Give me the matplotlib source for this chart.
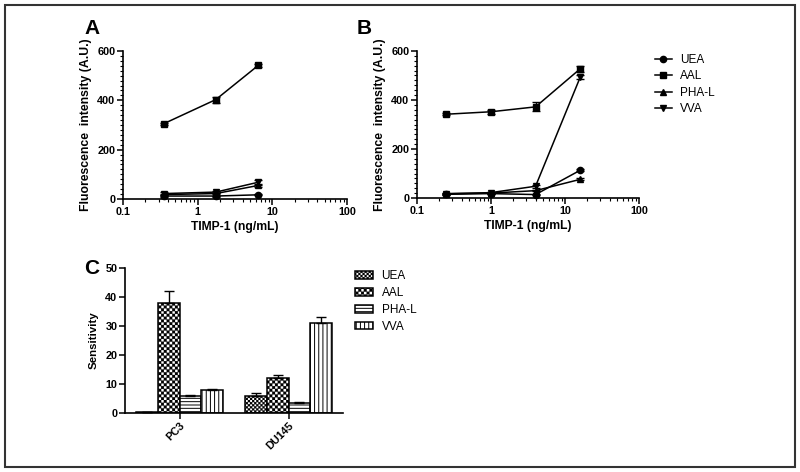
import warnings
import numpy as np
import matplotlib
matplotlib.use('Agg')
import matplotlib.pyplot as plt
import matplotlib.hatch as mhatch
from matplotlib.path import Path
from matplotlib.patches import Rectangle
from matplotlib.ticker import LogLocator, NullFormatter, FixedLocator, MultipleLocator

warnings.filterwarnings('ignore')

# ---------------- data ----------------
lectins = ['UEA', 'AAL', 'PHA-L', 'VVA']
line_markers = ['o', 's', '^', 'v']

# Panel A
timp_A = [0.35, 1.75, 6.5]
uea_A = [12, 12, 17]
aal_A = [305, 403, 542]
pha_A = [18, 22, 55]
vva_A = [22, 28, 68]
uea_A_err = [2, 2, 2]
aal_A_err = [5, 12, 6]
pha_A_err = [3, 3, 6]
vva_A_err = [5, 5, 10]

# Panel B
timp_B = [0.25, 1, 4, 16]
uea_B = [15, 18, 14, 113]
aal_B = [342, 352, 372, 527]
pha_B = [18, 20, 30, 76]
vva_B = [17, 22, 48, 492]
uea_B_err = [2, 2, 2, 4]
aal_B_err = [5, 9, 18, 12]
pha_B_err = [2, 2, 3, 4]
vva_B_err = [3, 3, 6, 8]

x_ticks_log = [0.1, 1, 10, 100]
x_tick_labels = ['0.1', '1', '10', '100']
y_ticks_AB = [0, 200, 400, 600]

# Panel C
cell_lines = ['PC3', 'DU145']
sens_uea = [0.3, 6.0]
sens_aal = [38.0, 12.0]
sens_pha = [5.8, 3.6]
sens_vva = [7.8, 31.0]
sens_uea_err = [0.1, 1.0]
sens_aal_err = [4.0, 1.0]
sens_pha_err = [0.5, 0.3]
sens_vva_err = [0.6, 2.0]
y_ticks_C = [0, 10, 20, 30, 40, 50]

# ---------------- custom checkerboard hatch (uses the 'O' symbol) ----------------
class CheckerHatch(mhatch.HatchPatternBase):
    def __init__(self, hatch, density):
        n = hatch.count('O') * density
        self.n = n
        self.num_vertices = ((n * n + 1) // 2) * 5 if n else 0

    def set_vertices_and_codes(self, vertices, codes):
        n = self.n
        s = 1.0 / n
        sq = np.array([[0, 0], [1, 0], [1, 1], [0, 1], [0, 0]], float) * s
        cd = [Path.MOVETO, Path.LINETO, Path.LINETO, Path.LINETO, Path.CLOSEPOLY]
        k = 0
        for i in range(n):
            for j in range(n):
                if (i + j) % 2 == 0:
                    vertices[k:k + 5] = sq + (i * s, j * s)
                    codes[k:k + 5] = cd
                    k += 5

mhatch._hatch_types = [t for t in mhatch._hatch_types
                       if t is not mhatch.LargeCircles] + [CheckerHatch]

plt.rcParams['font.family'] = ['Liberation Sans', 'DejaVu Sans']
plt.rcParams['hatch.linewidth'] = 0.7
plt.rcParams['hatch.color'] = 'black'

W, H = 800, 472
fig = plt.figure(figsize=(W / 100, H / 100), dpi=100)


def px_axes(l, t, r, b):
    return fig.add_axes([l / W, 1 - b / H, (r - l) / W, (b - t) / H])


def style(ax):
    for s in ['top', 'right']:
        ax.spines[s].set_visible(False)
    for s in ['left', 'bottom']:
        ax.spines[s].set_linewidth(1.2)
    ax.tick_params(which='major', direction='out', length=4, width=1.1,
                   labelsize=7.8, pad=1.5)
    ax.tick_params(which='minor', direction='out', length=2, width=0.8)
    for lab in ax.get_xticklabels() + ax.get_yticklabels():
        lab.set_fontweight('bold')


def line_panel(ax, x, ys, errs):
    for name, m, y, e in zip(lectins, line_markers, ys, errs):
        ax.plot(x, y, marker=m, color='black', ms=4.5, lw=1.1, label=name,
                clip_on=False, zorder=3)
        ax.errorbar(x, y, yerr=e, fmt='none', ecolor='black', elinewidth=1.0,
                    capsize=3, capthick=1.0, clip_on=False, zorder=3)
    ax.set_xscale('log')
    ax.set_xlim(0.1, 100)
    ax.set_ylim(0, 600)
    ax.xaxis.set_major_locator(FixedLocator(x_ticks_log))
    ax.set_xticklabels(x_tick_labels)
    ax.xaxis.set_minor_locator(LogLocator(base=10, subs=np.arange(2, 10)))
    ax.xaxis.set_minor_formatter(NullFormatter())
    ax.set_yticks(y_ticks_AB)
    ax.yaxis.set_minor_locator(MultipleLocator(20))
    ax.set_xlabel('TIMP-1 (ng/mL)', fontsize=8.7, fontweight='bold', labelpad=3)
    ax.set_ylabel('Fluorescence  intensity (A.U.)', fontsize=8.8,
                  fontweight='bold', labelpad=4)
    style(ax)


# Panel A
axA = px_axes(123, 51, 347, 199)
line_panel(axA, timp_A, [uea_A, aal_A, pha_A, vva_A],
           [uea_A_err, aal_A_err, pha_A_err, vva_A_err])

# Panel B
axB = px_axes(417, 51, 639, 198)
line_panel(axB, timp_B, [uea_B, aal_B, pha_B, vva_B],
           [uea_B_err, aal_B_err, pha_B_err, vva_B_err])

handles, labels = axB.get_legend_handles_labels()
fig.legend(handles, labels, loc='upper left',
           bbox_to_anchor=(650 / W, 1 - 49 / H), frameon=False,
           fontsize=8.5, handlelength=1.45, handletextpad=0.7,
           labelspacing=0.38, borderaxespad=0)

# Panel C
axC = px_axes(125, 268, 343, 413)
bw = 0.2
xc = np.arange(len(cell_lines))
hatches = ['O' * 8, 'O' * 6, '-' * 5, '|' * 4]
hatch_lws = [0.15, 0.15, 0.7, 0.7]
vals = [sens_uea, sens_aal, sens_pha, sens_vva]
errs = [sens_uea_err, sens_aal_err, sens_pha_err, sens_vva_err]
for i, (name, v, e, h, hlw) in enumerate(zip(lectins, vals, errs, hatches, hatch_lws)):
    pos = xc + (i - 1.5) * bw
    with plt.rc_context({'hatch.linewidth': hlw}):
        bars = axC.bar(pos, v, width=bw, color='white', edgecolor='black',
                       linewidth=1.1, hatch=h, label=name, zorder=2)
    for b in bars:
        if hasattr(b, 'set_hatch_linewidth'):
            b.set_hatch_linewidth(hlw)
    axC.errorbar(pos, v, yerr=[np.zeros(len(e)), e], fmt='none',
                 ecolor='black', elinewidth=1.0, capsize=3.5, capthick=1.0,
                 zorder=3)
axC.set_xlim(-0.5, 1.5)
axC.set_ylim(0, 50)
axC.set_yticks(y_ticks_C)
axC.set_xticks(xc)
axC.set_xticklabels(cell_lines)
axC.set_ylabel('Sensitivity', fontsize=8.2, fontweight='bold', labelpad=5)
style(axC)
for lab in axC.get_xticklabels():
    lab.set_rotation(45)
    lab.set_ha('right')
    lab.set_rotation_mode('anchor')

leg = axC.legend(loc='upper left', bbox_to_anchor=(355 / W, 1 - 270 / H),
                 bbox_transform=fig.transFigure, frameon=False, fontsize=8.5,
                 handlelength=1.5, handleheight=0.6, handletextpad=0.75,
                 labelspacing=0.42, borderaxespad=0, borderpad=0)
for p, hlw in zip(leg.get_patches(), hatch_lws):
    if hasattr(p, 'set_hatch_linewidth'):
        p.set_hatch_linewidth(hlw)

# Panel letters
fig.text(92 / W, 1 - 28 / H, 'A', fontsize=15, fontweight='bold',
         ha='center', va='center')
fig.text(364 / W, 1 - 28 / H, 'B', fontsize=15, fontweight='bold',
         ha='center', va='center')
fig.text(92 / W, 1 - 268 / H, 'C', fontsize=15, fontweight='bold',
         ha='center', va='center')

# outer frame
fig.add_artist(Rectangle((5 / W, 5 / H), 790 / W, 462 / H,
                         transform=fig.transFigure, fill=False,
                         lw=1.5, ec='#333333'))

fig.savefig('out.png', dpi=100)
